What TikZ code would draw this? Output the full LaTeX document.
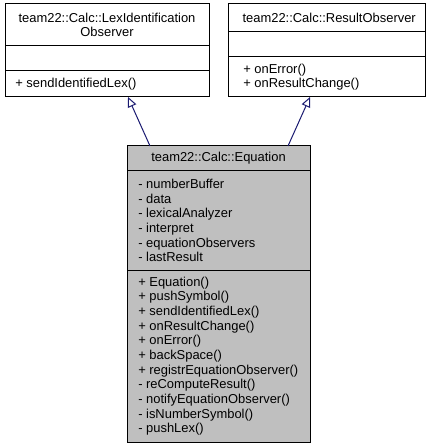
\documentclass[tikz,border=0pt]{standalone}
\usepackage{fontspec}
\setmainfont{Liberation Sans}
\usetikzlibrary{arrows.meta}
\definecolor{edgeblue}{HTML}{191970}
\definecolor{classgray}{HTML}{BFBFBF}
\begin{document}
\begin{tikzpicture}[x=0.75pt,y=-0.75pt,
    part/.style={draw=black,line width=0.75pt,inner sep=0pt,outer sep=0pt,anchor=north west},
    txt/.style={inner sep=0pt,font=\fontsize{9.7}{11}\selectfont},
    title/.style={txt,align=center},
    members/.style={txt,align=left,anchor=west},
    inherit/.style={draw=edgeblue,line width=0.75pt,
      -{Triangle[open,length=7.5pt,width=6.75pt,fill=white]}}]
  \useasboundingbox (0,0) rectangle (437,448);
  % base classes
  \draw
    (5,4) node[part,minimum width=153pt,minimum height=31.5pt] (lexTitle) {}
    (5,46) node[part,minimum width=153pt,minimum height=18.75pt] (lexAttr) {}
    (5,71) node[part,minimum width=153pt,minimum height=19.5pt] (lexOps) {};
  \node[title] (lexName) at (lexTitle.center) {team22::Calc::LexIdentification\\Observer};
  \node[members] (lexOpsList) at ([xshift=7.5pt]lexOps.west) {+ sendIdentifiedLex()};
  \draw
    (228,4) node[part,minimum width=147.75pt,minimum height=21pt] (resTitle) {}
    (228,32) node[part,minimum width=147.75pt,minimum height=18.75pt] (resAttr) {}
    (228,57) node[part,minimum width=147.75pt,minimum height=30pt] (resOps) {};
  \node[title] (resName) at ([xshift=2pt]resTitle.center) {team22::Calc::ResultObserver};
  \node[members] (resOpsList) at ([xshift=11.25pt]resOps.west) {+ onError()\\+ onResultChange()};
  % derived class
  \draw
    (127,146) node[part,fill=classgray,minimum width=137.25pt,minimum height=18.75pt] (eqTitle) {}
    (127,171) node[part,fill=classgray,minimum width=137.25pt,minimum height=74.25pt] (eqAttr) {}
    (127,270) node[part,fill=classgray,minimum width=137.25pt,minimum height=129pt] (eqOps) {};
  \node[title] (eqName) at (eqTitle.center) {team22::Calc::Equation};
  \node[members] (eqAttrList) at ([xshift=8.25pt]eqAttr.west)
    {- numberBuffer\\- data\\- lexicalAnalyzer\\- interpret\\- equationObservers\\- lastResult};
  \node[members] (eqOpsList) at ([xshift=8.25pt]eqOps.west)
    {+ Equation()\\+ pushSymbol()\\+ sendIdentifiedLex()\\+ onResultChange()\\+ onError()\\+ backSpace()\\+ registrEquationObserver()\\- reComputeResult()\\- notifyEquationObserver()\\- isNumberSymbol()\\- pushLex()};
  \begin{scope}[inherit]
    \draw ([xshift=17.25pt]eqTitle.north west) to ([xshift=92.25pt]lexOps.south west);
    \draw ([xshift=120.75pt]eqTitle.north west) to ([xshift=61.5pt]resOps.south west);
  \end{scope}
\end{tikzpicture}
\end{document}
